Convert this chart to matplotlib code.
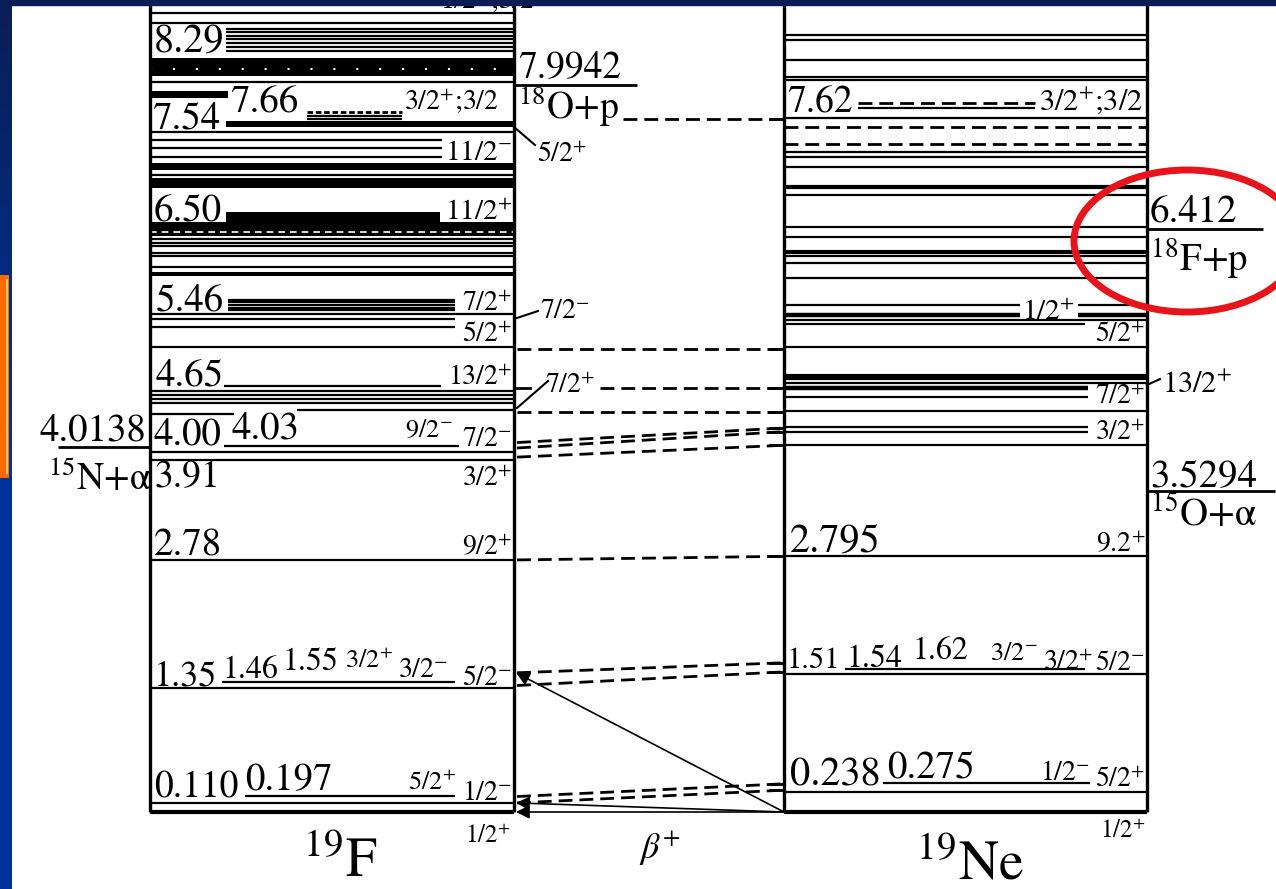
import matplotlib.pyplot as plt
import numpy as np
from matplotlib.patches import Ellipse, Rectangle
from matplotlib.colors import LinearSegmentedColormap

plt.rcParams['font.family'] = ['STIXGeneral', 'DejaVu Serif']
plt.rcParams['mathtext.fontset'] = 'stix'

# ---------------- data (MeV) ----------------
# 19F
f19_full = [8.78, 8.67, 8.02, 7.47, 7.00, 6.30, 6.25, 6.22, 6.14, 6.11, 5.99,
            5.47, 5.11, 4.63, 4.58, 4.54, 4.50, 3.96, 3.87, 2.77, 1.36, 0.10]
f19_band_lo = [8.09, 7.06, 6.86, 6.33, 5.89]
f19_band_hi = [8.29, 7.13, 6.97, 6.48, 5.93]
f19_part = [8.60, 8.57, 8.53, 8.50, 8.45, 8.41, 8.36, 7.65, 7.62,
            7.38, 7.30, 7.20, 5.63, 5.60, 5.57, 5.54, 5.52, 5.42, 5.33,
            4.68, 4.37, 4.42, 4.02, 1.43, 0.18]
f19_bar_lo = [7.85, 7.53, 6.48]
f19_bar_hi = [7.92, 7.59, 6.59]
f19_dashed_part = [7.69]

# 19Ne
ne19_full = [8.54, 8.48, 8.26, 8.08, 8.04, 7.63, 7.25, 7.20, 7.09, 6.78,
             6.43, 6.32, 6.11, 6.03, 5.87, 5.41, 5.11, 4.76, 4.71, 4.41,
             4.03, 2.81, 1.52, 0.22]
ne19_thick = [6.87, 6.15, 4.79]
ne19_dashed = [7.53, 7.34]
ne19_part = [7.74, 5.57, 5.57, 5.46, 5.46, 5.36, 4.66, 4.56, 4.23, 4.18, 1.57, 0.32]
ne19_dashed_part = [7.79]

# particle thresholds
thr_left = [4.0138]
thr_mid = [7.9942]
thr_right = [6.412, 3.5294]

# dashed analog connections 19F -> 19Ne
conn_f = [5.09, 4.66, 4.40, 4.06, 4.00, 3.90, 2.77, 1.53, 1.39, 0.17, 0.10]
conn_ne = [5.09, 4.66, 4.40, 4.22, 4.18, 4.03, 2.81, 1.64, 1.54, 0.31, 0.24]
op_level = 7.62

# beta+ feeding from 19Ne ground state
beta_to = [1.53, 0.10, 0.0]

# ---------------- layout ----------------
W, H = 1276, 889
Y0, S = 812, 91.0          # pixel row of 0 MeV, pixels per MeV
F0, F1 = 150, 514          # 19F column
N0, N1 = 784, 1147         # 19Ne column

f19_px0 = [226] * 7 + [307, 307] + [152] * 3 + [228] * 5 + [152, 152] + [224, 152, 297, 224, 222, 245]
f19_px1 = [513] * 7 + [402, 402] + [442] * 3 + [455] * 5 + [455, 455] + [441, 234, 514, 459, 455, 455]
f19_bar_x0 = [152, 226, 226]
f19_bar_x1 = [228, 513, 440]
ne19_px0 = [858, 784, 1078, 784, 1078, 784, 784, 784, 784, 784, 845, 883]
ne19_px1 = [1035, 1020, 1146, 1020, 1146, 1085, 1088, 1088, 1088, 1088, 1085, 1090]
ne19_plw = [1.6, 1.6, 1.6, 3.2, 3.2, 1.6, 3.2, 1.6, 1.6, 1.6, 1.6, 1.6]


def e(y):
    return (Y0 - y) / S


fig = plt.figure(figsize=(W / 100, H / 100), dpi=100)
ax = fig.add_axes([0, 0, 1, 1])
ax.set_xlim(0, W)
ax.set_ylim(e(H), e(0))
ax.axis('off')

LW = 1.6
DASH = (0, (5, 2.5))

# 19F column
ax.hlines(f19_full, F0, F1, color='k', lw=LW)
ax.hlines([0.0], F0, F1, color='k', lw=3)
for lo, hi in zip(f19_band_lo, f19_band_hi):
    ax.fill_between([F0, F1], lo, hi, color='k', lw=0)
for lo, hi, a, b in zip(f19_bar_lo, f19_bar_hi, f19_bar_x0, f19_bar_x1):
    ax.fill_between([a, b], lo, hi, color='k', lw=0)
ax.hlines(f19_part, f19_px0, f19_px1, color='k', lw=LW)
ax.hlines(f19_dashed_part, 307, 402, color='k', lw=2, linestyles=[(0, (2, 1))])
ax.hlines([8.165], F0, F1, color='w', lw=1.5, linestyles=[(0, (1, 10))])
ax.hlines([6.37], F0, F1, color='w', lw=1.2, linestyles=[(0, (4, 3))])
ax.vlines([F0, F1], 0, e(0), color='k', lw=2.4)

# 19Ne column
ax.hlines(ne19_full, N0, N1, color='k', lw=LW)
ax.hlines(ne19_thick + [0.0], N0, N1, color='k', lw=3)
ax.hlines(ne19_dashed, N0, N1, color='k', lw=2, linestyles=[DASH])
ax.hlines(ne19_part, ne19_px0, ne19_px1, color='k', lw=ne19_plw)
ax.hlines(ne19_dashed_part, 858, 1035, color='k', lw=2, linestyles=[DASH])
ax.vlines([N0, N1], 0, e(0), color='k', lw=2.4)

# thresholds
ax.hlines(thr_left, 58, F0, color='k', lw=2)
ax.hlines(thr_mid, F1, 637, color='k', lw=2)
ax.hlines(thr_right, N1, [1263, 1275], color='k', lw=2)

# analog connections
for a, b in zip(conn_f, conn_ne):
    x_start = 600 if a == 4.66 else 517
    ax.plot([x_start, N0], [a, b], color='k', lw=2, ls=DASH)
    ax.plot([770, N0], [b, b], color='k', lw=2)
ax.plot([517, 530], [4.66, 4.66], color='k', lw=2)
ax.plot([623, N0], [op_level, op_level], color='k', lw=2, ls=DASH)
ax.plot([770, N0], [op_level, op_level], color='k', lw=2)

# beta+ arrows
for t in beta_to:
    ax.annotate('', xy=(516, t), xytext=(N0, 0.0),
                arrowprops=dict(arrowstyle='-|>', color='k', lw=1.2,
                                mutation_scale=20, shrinkA=0, shrinkB=0))

# spin label tick lines
ax.plot([514, 535], [e(127), e(145)], color='k', lw=1.5)
ax.plot([517, 538], [e(318), e(311)], color='k', lw=1.5)
ax.plot([517, 548], [e(408), e(381)], color='k', lw=1.5)
ax.plot([N1, 1160], [e(385), e(379)], color='k', lw=1.5)


def txt(x, y, s, size, ha='left', **kw):
    ax.text(x, e(y), s, fontsize=size, ha=ha, va='baseline', **kw)


P, M = r'$^{+}$', r'$^{-}$'

# 19F labels
txt(440, 9, '1/2' + P + ';3/2', 20)
txt(154, 52, '8.29', 29)
txt(152, 128, '7.54', 28)
txt(230, 112, '7.66', 28)
txt(404, 110, '3/2' + P + ';3/2', 20)
txt(512, 160, '11/2' + M, 21, ha='right')
txt(154, 220, '6.50', 28)
txt(512, 220, '11/2' + P, 21, ha='right')
txt(156, 310, '5.46', 28)
txt(512, 311, '7/2' + P, 20, ha='right')
txt(512, 342, '5/2' + P, 20, ha='right')
txt(156, 385, '4.65', 28)
txt(512, 385, '13/2' + P, 20, ha='right')
txt(154, 444, '4.00', 28)
txt(232, 438, '4.03', 28)
txt(405, 437, '9/2' + M, 19)
txt(512, 446, '7/2' + M, 20, ha='right')
txt(154, 487, '3.91', 27)
txt(512, 486, '3/2' + P, 20, ha='right')
txt(154, 555, '2.78', 28)
txt(512, 555, '9/2' + P, 20, ha='right')
txt(154, 686, '1.35', 26)
txt(222, 678, '1.46', 23)
txt(282, 670, '1.55', 23)
txt(345, 668, '3/2' + P, 19)
txt(398, 677, '3/2' + M, 20)
txt(512, 685, '5/2' + M, 20, ha='right')
txt(154, 798, '0.110', 27)
txt(245, 790, '0.197', 28)
txt(408, 790, '5/2' + P, 19)
txt(512, 800, '1/2' + M, 20, ha='right')
txt(510, 843, '1/2' + P, 18, ha='right')
txt(340, 877, r'$^{19}$F', 40, ha='center')

# outside / middle labels
txt(40, 440, '4.0138', 28)
txt(48, 490, r'$^{15}$N+α', 27)
txt(518, 77, '7.9942', 27)
txt(518, 119, r'$^{18}$O+p', 27)
txt(537, 162, '5/2' + P, 20)
txt(540, 318, '7/2' + M, 20)
txt(545, 393, '7/2' + P, 20)
txt(660, 858, r'$\beta^{+}$', 26, ha='center')

# 19Ne labels
txt(787, 112, '7.62', 27)
txt(1143, 110, '3/2' + P + ';3/2', 22, ha='right')
txt(1022, 320, '1/2' + P, 21)
txt(1145, 342, '5/2' + P, 20, ha='right')
txt(1162, 393, '13/2' + P, 22)
txt(1145, 404, '7/2' + P, 20, ha='right')
txt(1145, 440, '3/2' + P, 20, ha='right')
txt(1150, 221, '6.412', 28)
txt(1150, 272, r'$^{18}$F+p', 28)
txt(1150, 486, '3.5294', 28)
txt(1150, 526, r'$^{15}$O+α', 28)
txt(790, 552, '2.795', 29)
txt(1145, 552, '9.2' + P, 20, ha='right')
txt(787, 668, '1.51', 22)
txt(847, 667, '1.54', 23)
txt(912, 659, '1.62', 23)
txt(990, 660, '3/2' + M, 19)
txt(1043, 670, '3/2' + P, 20)
txt(1145, 670, '5/2' + M, 20, ha='right')
txt(790, 786, '0.238', 29)
txt(887, 778, '0.275', 28)
txt(1040, 780, '1/2' + M, 20)
txt(1145, 787, '5/2' + P, 20, ha='right')
txt(1145, 838, '1/2' + P, 18, ha='right')
txt(970, 879, r'$^{19}$Ne', 40, ha='center')

# red highlight ellipse
ax.add_patch(Ellipse((1187, e(241)), 226, 142 / S, fill=False,
                     edgecolor='#e8141c', lw=5, zorder=5))

# slide decorations: top bar, left strip, orange box
ax.add_patch(Rectangle((0, e(5)), W, e(0) - e(5), color='#0a1e55', zorder=6))
cmap = LinearSegmentedColormap.from_list('slide', ['#0a1e55', '#003399', '#003399'])
ax.imshow(np.linspace(0, 1, 100).reshape(-1, 1), cmap=cmap, aspect='auto',
          extent=[0, 12, e(H), e(0)], zorder=6)
ax.add_patch(Rectangle((-2, e(478)), 11, e(275) - e(478), facecolor='#ff6a00',
                       edgecolor='none', zorder=7))
ax.plot([7, 7], [e(280), e(473)], color='#ffd070', lw=1.2, zorder=8)

fig.savefig('out.png', dpi=100)
